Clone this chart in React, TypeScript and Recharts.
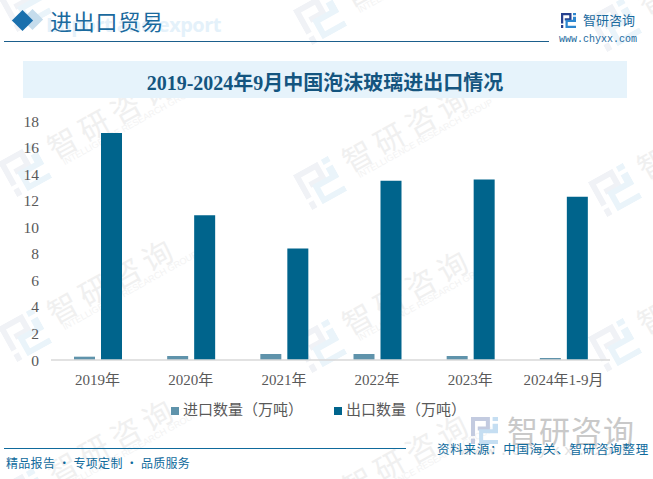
import React from 'react';
import { BarChart, Bar, XAxis, YAxis, Legend } from 'recharts';

const categories = ['2019年', '2020年', '2021年', '2022年', '2023年', '2024年1-9月'];
const importQty = [0.25, 0.3, 0.45, 0.45, 0.3, 0.15];
const exportQty = [17.1, 10.9, 8.4, 13.5, 13.6, 12.3];
const yTicks = [0, 2, 4, 6, 8, 10, 12, 14, 16, 18];

// logo centre of every watermark tile
const watermarks = [
  [25, 5], [320, 18], [615, 25],
  [25, 170], [320, 183], [615, 190],
  [25, 335], [320, 346], [615, 345],
  [25, 495], [320, 510],
];

const data = categories.map((name, i) => ({ name, imp: importQty[i], exp: exportQty[i] }));

const serif = '"Liberation Serif", "Noto Sans CJK SC", serif';
const cjk = '"Noto Sans CJK SC", sans-serif';

const Logo: React.FC<{ x: number; y: number; s: number; dark?: string; light?: string }> = ({
  x, y, s, dark = '#26418f', light = '#2c86cf',
}) => (
  <svg width={s} height={s} viewBox="0 0 20 20" style={{ position: 'absolute', left: x, top: y }}>
    <path d="M0 0H14V10H5V7H11V3H3V14H0Z" fill={dark} />
    <path d="M0 16H3V20H0Z" fill={dark} />
    <path d="M16 0H20V3H16Z" fill={light} />
    <path d="M16 5H20V12H9V17H20V20H6V9H16Z" fill={light} />
  </svg>
);

export default function App() {
  return (
    <div style={{ position: 'absolute', left: 0, top: 0, width: 653, height: 479, background: '#fff', overflow: 'hidden', fontFamily: cjk }}>
      {watermarks.map(([x, y], i) => (
        <div key={i} style={{ position: 'absolute', left: x, top: y, width: 0, height: 0, transform: 'rotate(-29deg)' }}>
          <Logo x={-20} y={-20} s={40} dark="#f0f2f6" light="#eaf4fa" />
          <div style={{ position: 'absolute', left: 31, top: -27, fontSize: 30, lineHeight: '40px', letterSpacing: 6, color: '#f0f0f0', whiteSpace: 'nowrap' }}>智研咨询</div>
          <div style={{ position: 'absolute', left: 37, top: 6, fontSize: 9, lineHeight: '12px', color: '#f3f3f3', fontFamily: '"Liberation Sans"', whiteSpace: 'nowrap' }}>INTELLIGENCE RESEARCH GROUP</div>
        </div>
      ))}

      <div style={{ position: 'absolute', left: 25, top: 12, width: 15, height: 15, transform: 'rotate(45deg)', background: '#c5dcec' }} />
      <div style={{ position: 'absolute', left: 15, top: 12.5, width: 15, height: 15, transform: 'rotate(45deg)', background: '#1a70ad' }} />
      <div style={{ position: 'absolute', left: 46, top: 14, fontSize: 20, lineHeight: '22px', letterSpacing: -0.5, fontWeight: 700, color: '#e4f1fa', fontFamily: '"Open Sans"', whiteSpace: 'nowrap' }}>Import and export</div>
      <div style={{ position: 'absolute', left: 50, top: 6, fontSize: 22, lineHeight: '28px', letterSpacing: 0.8, color: '#1a6a9e', whiteSpace: 'nowrap' }}>进出口贸易</div>
      <div style={{ position: 'absolute', left: 4, top: 41, width: 545, height: 1, background: '#1b5f8c' }} />

      <Logo x={561} y={13} s={15} />
      <div style={{ position: 'absolute', left: 583, top: 11, fontSize: 13, lineHeight: '18px', color: '#1a6a9e', whiteSpace: 'nowrap' }}>智研咨询</div>
      <div style={{ position: 'absolute', left: 559, top: 34, fontSize: 10, lineHeight: '12px', color: '#1a6a9e', fontFamily: '"Liberation Mono"', whiteSpace: 'nowrap' }}>www.chyxx.com</div>

      <div style={{ position: 'absolute', left: 23, top: 61, width: 604, height: 37, background: '#e6f3fb', textAlign: 'center', lineHeight: '44px', fontSize: 20, fontWeight: 700, color: '#14557f', fontFamily: serif, whiteSpace: 'nowrap' }}>
        2019-2024年9月中国泡沫玻璃进出口情况
      </div>

      <div style={{ position: 'absolute', left: 0, top: 100 }}>
        <BarChart
          width={653}
          height={330}
          data={data}
          margin={{ top: 21, right: 43, bottom: 9, left: 0 }}
          barSize={21}
          barGap={6}
        >
          <XAxis
            dataKey="name"
            tickLine={false}
            axisLine={{ stroke: '#d9d9d9', strokeWidth: 1.5 }}
            tick={{ fontSize: 15, fill: '#595959', fontFamily: serif }}
            tickMargin={8}
            interval={0}
            height={40}
          />
          <YAxis
            width={51}
            domain={[0, 18]}
            ticks={yTicks}
            interval={0}
            axisLine={false}
            tickLine={false}
            tick={{ fontSize: 15.5, fill: '#595959', fontFamily: serif }}
            tickMargin={6}
          />
          <Legend
            verticalAlign="bottom"
            align="center"
            iconType="square"
            iconSize={8}
            itemSorter={null}
            wrapperStyle={{ fontSize: 15, fontFamily: cjk, left: 29, bottom: 11 }}
            formatter={(value) => <span style={{ color: '#595959', marginRight: 21 }}>{value}</span>}
          />
          <Bar dataKey="imp" name="进口数量（万吨）" fill="#5f93ab" isAnimationActive={false} />
          <Bar dataKey="exp" name="出口数量（万吨）" fill="#00648c" isAnimationActive={false} />
        </BarChart>
      </div>

      <Logo x={471} y={417} s={27} dark="#c3cbe0" light="#c5def2" />
      <div style={{ position: 'absolute', left: 507, top: 412, fontSize: 31, lineHeight: '36px', letterSpacing: 1, color: '#c9c9c9', whiteSpace: 'nowrap' }}>智研咨询</div>
      <div style={{ position: 'absolute', left: 460, top: 443, fontSize: 15, lineHeight: '18px', letterSpacing: 4, color: '#e2e2e2', fontFamily: '"Liberation Mono"', whiteSpace: 'nowrap' }}>www.chyxx.com</div>
      <div style={{ position: 'absolute', left: 4, top: 448, width: 402, height: 1, background: '#0f6a9c' }} />
      <div style={{ position: 'absolute', left: 6, top: 455, fontSize: 12, lineHeight: '16px', letterSpacing: 0.3, color: '#0f6a9c', whiteSpace: 'nowrap' }}>精品报告 · 专项定制 · 品质服务</div>
      <div style={{ position: 'absolute', left: 437, top: 441, fontSize: 12.5, lineHeight: '16px', letterSpacing: 0.75, color: '#0f6a9c', whiteSpace: 'nowrap' }}>资料来源：中国海关、智研咨询整理</div>
    </div>
  );
}
